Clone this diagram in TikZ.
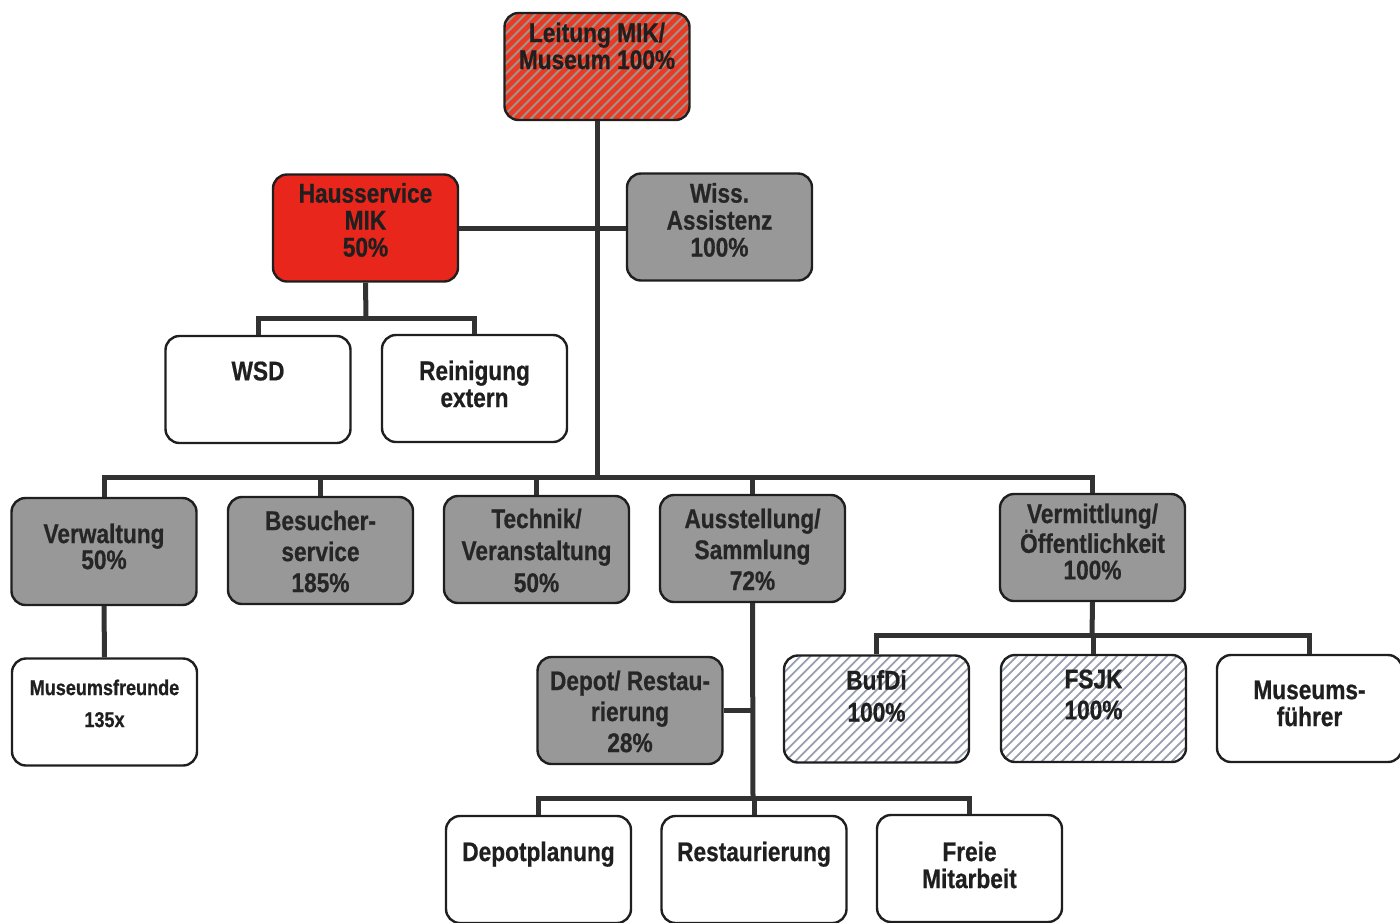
\documentclass[tikz,border=0pt]{standalone}
\usepackage{fontspec}
\setmainfont{Liberation Sans}[FakeStretch=0.84, BoldFeatures={FakeBold=0.6}]
\definecolor{boxgray}{RGB}{152,152,152}
\definecolor{hred}{RGB}{232,38,28}
\definecolor{stripered}{RGB}{232,58,36}
\definecolor{stripebase}{RGB}{158,148,140}
\definecolor{hatchblue}{RGB}{150,158,176}
\definecolor{linec}{RGB}{50,50,50}
\newcommand{\T}[2]{\parbox[c][#1][t]{182pt}{\centering #2}}
\begin{document}
\begin{tikzpicture}[x=1pt,y=-1pt,
  box/.style={draw=black!88, line width=2.4pt, rounded corners=14pt,
    minimum width=185pt, minimum height=107pt, inner sep=0pt, align=center,
    font=\bfseries\fontsize{27}{27}\selectfont, text=black!88},
  ls/.style={font=\bfseries\fontsize{27}{#1}\selectfont},
  gbox/.style={box, fill=boxgray, text=black!85},
  wbox/.style={box, fill=white},
  rbox/.style={box, fill=hred},
  stripes/.style n args={4}{path picture={
    \fill[#1] (path picture bounding box.south west) rectangle (path picture bounding box.north east);
    \foreach \i in {-130,#4,...,200}
      \draw[#2, line width=#3] ([xshift=\i pt]path picture bounding box.south west) -- ++(140,-140);}},
  conn/.style={draw=linec, line width=5pt}
]
\useasboundingbox (0,0) rectangle (1400,922);

% nodes
\node[box, stripes={stripebase}{stripered}{4.8pt}{-120}] (leit) at (597,66.5) {\T{88pt}{Leitung MIK/\\Museum 100\%}};
\node[rbox] (haus) at (365.5,228) {\T{90pt}{Hausservice\\MIK\\50\%}};
\node[gbox] (wiss) at (719.5,227) {\T{88pt}{Wiss.\\Assistenz\\100\%}};
\node[wbox] (wsd) at (258,389.5) {\T{56pt}{WSD}};
\node[wbox] (rein) at (474.5,388.5) {\T{56pt}{Reinigung\\extern}};

\node[gbox, ls=26] (verw) at (104,551.5) {\T{56pt}{Verwaltung\\50\%}};
\node[gbox, ls=31] (besu) at (320.5,550.5) {\T{80pt}{Besucher-\\service\\185\%}};
\node[gbox, ls=32] (tech) at (536.5,549.5) {\T{82pt}{Technik/\\Veranstaltung\\50\%}};
\node[gbox, ls=31] (auss) at (752.5,548.5) {\T{80pt}{Ausstellung/\\Sammlung\\72\%}};
\node[gbox, ls=26.5] (verm) at (1092.5,547.5) {\T{88pt}{Vermittlung/\\Öffentlichkeit\\100\%}};

\node[wbox, font=\bfseries\fontsize{21.5}{32}\selectfont] (mfr) at (104.5,712) {\T{65pt}{Museumsfreunde\\135x}};
\node[gbox, ls=31] (depo) at (630,710.5) {\T{80pt}{Depot/ Restau-\\rierung\\28\%}};
\node[box, ls=32, stripes={white}{hatchblue}{1.8pt}{-120}] (bufd) at (876.5,709) {\T{78pt}{BufDi\\100\%}};
\node[box, ls=31, stripes={white}{hatchblue}{1.8pt}{-120}] (fsjk) at (1093.5,708.5) {\T{78pt}{FSJK\\100\%}};
\node[wbox] (mfue) at (1309.5,708.5) {\T{56pt}{Museums-\\führer}};

\node[wbox] (dplan) at (538.5,869.5) {\T{56pt}{Depotplanung}};
\node[wbox] (rest) at (754,869.5) {\T{56pt}{Restaurierung}};
\node[wbox] (frei) at (969.5,868.5) {\T{54pt}{Freie\\Mitarbeit}};

% junctions
\coordinate (j1) at (597,477);
\coordinate (h1) at (366,318);
\coordinate (a1) at (753,798);
\coordinate (v1) at (1092,635);

% connectors
\draw[conn] (leit.south) -- (j1);
\draw[conn] (haus.east) -- (haus.east -| wiss.west);
\draw[conn] (haus.south) -- (h1);
\draw[conn] (wsd.north) -- (wsd.north |- h1) -- (rein.north |- h1) -- (rein.north);
\draw[conn] (verw.north) |- (j1);
\draw[conn] (verm.north) |- (j1);
\draw[conn] (besu.north) -- (besu.north |- j1);
\draw[conn] (tech.north) -- (tech.north |- j1);
\draw[conn] (auss.north) -- (auss.north |- j1);
\draw[conn] (verw.south) -- (mfr.north);
\draw[conn] (auss.south) -- (a1);
\draw[conn] (depo.east) -- (depo.east -| a1);
\draw[conn] (dplan.north) |- (a1);
\draw[conn] (frei.north) |- (a1);
\draw[conn] (rest.north) -- (rest.north |- a1);
\draw[conn] (verm.south) -- (v1);
\draw[conn] (bufd.north) |- (v1);
\draw[conn] (mfue.north) |- (v1);
\draw[conn] (fsjk.north) -- (fsjk.north |- v1);
\end{tikzpicture}
\end{document}
